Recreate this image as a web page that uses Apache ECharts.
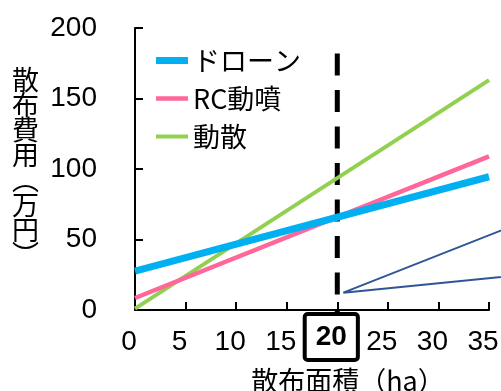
<!DOCTYPE html>
<html>
<head>
<meta charset="utf-8">
<script src="https://cdn.jsdelivr.net/npm/echarts@6/dist/echarts.min.js"></script>
<style>
  html, body { margin: 0; padding: 0; background: #fff; }
  #chart { width: 501px; height: 391px; }
</style>
</head>
<body>
<div id="chart"></div>
<script>
// Spraying area (ha) at the two ends of each cost line
const areaHa = [0, 35];
// Spraying cost (万円) for each method
const droneCost = [27.5, 94.5];
const rcCost = [8.5, 109];
const dosanCost = [1, 163];
const seriesNames = ['ドローン', 'RC動噴', '動散'];
const seriesColors = ['#00B0F0', '#FF6699', '#92D050'];
const seriesWidths = [7, 4.5, 4];
// Break-even area marked by the dashed line
const breakEvenHa = 20;
const breakEvenSpan = [182, -2];
// Callout pointer: tip point and the two far ends
const pointerX = [40, 20.6, 40];
const pointerY = [67.2, 12.3, 26.2];
// Axis tick labels
const xTicks = [0, 5, 10, 15, 20, 25, 30, 35];
const yTicks = [0, 50, 100, 150, 200];

const numFont = "'Liberation Sans', sans-serif";
const jpFont = "'Noto Sans CJK JP', sans-serif";

const pair = (xs, ys) => xs.map((x, i) => [x, ys[i]]);
// Flat bar icon whose thickness follows the series line width
const barIcon = w => 'path://M0,0H32V' + w + 'H0Z';

// Main plot: 0–35 ha spans 135px..489px; the overlay grid keeps the same
// scale but runs on to 40 ha so the callout pointer can leave the plot.
const plotLeft = 135, plotRight = 489, plotTop = 28, plotBottom = 310;
const pxPerHa = (plotRight - plotLeft) / xTicks[xTicks.length - 1];
const overlayMaxHa = 40;

const chart = echarts.init(document.getElementById('chart'), null, { renderer: 'canvas' });
const W = 501, H = 391;

chart.setOption({
  animation: false,
  backgroundColor: '#fff',
  grid: [
    { left: plotLeft, right: W - plotRight, top: plotTop, bottom: H - plotBottom,
      outerBoundsMode: 'none', containLabel: false },
    { left: plotLeft, right: W - (plotLeft + pxPerHa * overlayMaxHa), top: plotTop, bottom: H - plotBottom,
      outerBoundsMode: 'none', containLabel: false }
  ],
  legend: {
    data: seriesNames.map((n, i) => ({ name: n, icon: barIcon(seriesWidths[i]) })),
    orient: 'vertical',
    left: 156,
    top: 46.5,
    padding: 0,
    itemWidth: 32,
    itemHeight: 14,
    itemGap: 10,
    textStyle: { fontSize: 27, lineHeight: 28, fontFamily: jpFont, color: '#000' }
  },
  xAxis: [{
    type: 'value',
    gridIndex: 0,
    min: xTicks[0],
    max: xTicks[xTicks.length - 1],
    interval: 5,
    splitLine: { show: false },
    axisLine: { lineStyle: { color: '#000', width: 2 } },
    axisTick: { inside: true, length: 8, lineStyle: { color: '#000', width: 2 } },
    axisLabel: {
      margin: 27,
      verticalAlign: 'middle',
      padding: [0, 12, 0, 0],
      color: '#000',
      formatter: v => v === breakEvenHa ? '{b|' + v + '}' : '{n|' + v + '}',
      rich: {
        n: { fontSize: 28, fontFamily: numFont, color: '#000', padding: [10, 0, 0, 0] },
        b: {
          fontSize: 28, fontFamily: numFont, fontWeight: 'bold', color: '#000',
          borderColor: '#000', borderWidth: 4, borderRadius: 3,
          padding: [9, 11, 9, 11]
        }
      }
    },
    name: '散布面積（ha）',
    nameLocation: 'middle',
    nameGap: 52,
    nameTextStyle: {
      fontSize: 27, fontFamily: jpFont, color: '#000',
      verticalAlign: 'top', padding: [0, 0, 0, 72]
    }
  }, {
    type: 'value',
    gridIndex: 1,
    min: 0,
    max: overlayMaxHa,
    show: false
  }],
  yAxis: [{
    type: 'value',
    gridIndex: 0,
    min: yTicks[0],
    max: yTicks[yTicks.length - 1],
    interval: 50,
    splitLine: { show: false },
    axisLine: { lineStyle: { color: '#000', width: 2 } },
    axisTick: { inside: true, length: 8, lineStyle: { color: '#000', width: 2 } },
    axisLabel: { margin: 38, fontSize: 28, fontFamily: numFont, color: '#000' }
  }, {
    type: 'value',
    gridIndex: 1,
    min: yTicks[0],
    max: yTicks[yTicks.length - 1],
    show: false
  }],
  graphic: [{
    type: 'text',
    left: 12,
    top: 66,
    style: {
      text: '散\n布\n費\n用\n︵\n万\n円\n︶',
      font: '27px ' + jpFont,
      lineHeight: 25,
      fill: '#000',
      align: 'center'
    }
  }],
  series: [
    {
      name: 'break-even',
      type: 'line',
      data: [[breakEvenHa, breakEvenSpan[0]], [breakEvenHa, breakEvenSpan[1]]],
      symbol: 'none',
      clip: false,
      silent: true,
      lineStyle: { color: '#000', width: 5, type: [22, 14.5], cap: 'butt' },
      z: 1
    },
    {
      name: seriesNames[0],
      type: 'line',
      data: pair(areaHa, droneCost),
      symbol: 'none',
      color: seriesColors[0],
      lineStyle: { color: seriesColors[0], width: seriesWidths[0] },
      z: 4
    },
    {
      name: seriesNames[1],
      type: 'line',
      data: pair(areaHa, rcCost),
      symbol: 'none',
      color: seriesColors[1],
      lineStyle: { color: seriesColors[1], width: seriesWidths[1] },
      z: 3
    },
    {
      name: seriesNames[2],
      type: 'line',
      data: pair(areaHa, dosanCost),
      symbol: 'none',
      color: seriesColors[2],
      lineStyle: { color: seriesColors[2], width: seriesWidths[2] },
      z: 2
    },
    {
      name: 'pointer',
      type: 'line',
      xAxisIndex: 1,
      yAxisIndex: 1,
      data: pair(pointerX, pointerY),
      symbol: 'none',
      silent: true,
      lineStyle: { color: '#2F5597', width: 2 },
      z: 2
    }
  ]
});
</script>
</body>
</html>
